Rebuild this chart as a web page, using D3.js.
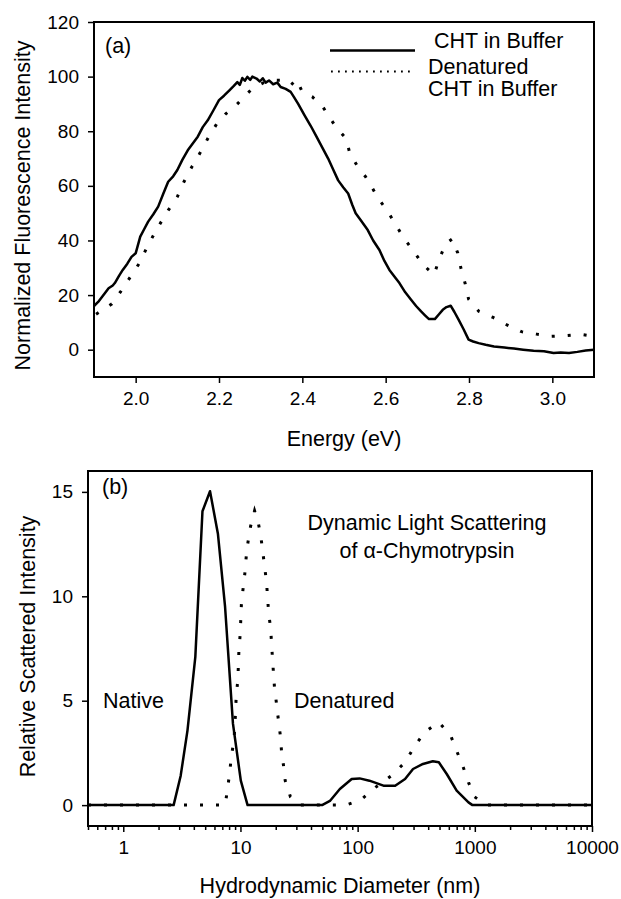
<!DOCTYPE html>
<html>
<head>
<meta charset="utf-8">
<script src="https://cdn.jsdelivr.net/npm/d3@7"></script>
<style>
  body { margin: 0; background: #fff; }
  svg { display: block; font-family: "Liberation Sans", Arial, sans-serif; }
  .frame { fill: none; stroke: #000; stroke-width: 2; }
  .tick line { stroke: #000; stroke-width: 1.5; }
  .tick text { font-size: 19px; fill: #000; }
  .solid { fill: none; stroke: #000; stroke-width: 2.5; stroke-linejoin: round; }
  .dotted { fill: none; stroke: #000; stroke-width: 3; stroke-dasharray: 3 13; }
  .lbl { font-size: 21.5px; fill: #000; }
</style>
</head>
<body>
<div id="chart"></div>
<script>
// panel (a): fluorescence, [energy eV, normalized intensity]
const chtBuffer = [
  [1.900,16.0],[1.910,17.5],[1.920,19.5],[1.926,20.7],[1.935,22.5],[1.945,23.5],[1.950,24.4],[1.960,27.0],
  [1.969,29.2],[1.980,31.5],[1.990,34.0],[2.000,35.3],[2.011,41.4],[2.020,44.0],[2.030,46.9],[2.042,49.5],
  [2.054,52.4],[2.066,57.0],[2.078,61.5],[2.090,63.5],[2.100,65.8],[2.112,69.5],[2.125,73.0],[2.137,75.5],
  [2.149,78.0],[2.161,81.5],[2.173,84.0],[2.186,87.5],[2.200,91.4],[2.212,93.0],[2.225,95.0],[2.235,96.5],
  [2.244,98.0],[2.250,97.0],[2.256,99.5],[2.262,98.5],[2.268,99.9],[2.275,98.8],[2.280,100],[2.290,99.3],
  [2.298,98.2],[2.305,99.4],[2.312,97.8],[2.320,98.6],[2.330,97.2],[2.340,97.8],[2.348,96.2],[2.360,95.5],
  [2.372,94.4],[2.380,92.5],[2.390,90.0],[2.405,85.9],[2.420,82.0],[2.434,78.0],[2.448,74.0],[2.462,70.0],
  [2.474,66.0],[2.486,62.0],[2.498,59.5],[2.510,57.2],[2.520,53.0],[2.528,50.0],[2.542,47.0],[2.557,43.8],
  [2.570,40.0],[2.585,36.5],[2.597,32.5],[2.609,29.2],[2.620,27.0],[2.633,24.4],[2.647,21.0],[2.661,18.3],
  [2.673,16.0],[2.685,14.0],[2.695,12.5],[2.704,11.2],[2.718,11.2],[2.728,13.0],[2.737,14.6],[2.746,15.6],
  [2.756,16.1],[2.765,13.8],[2.775,11.0],[2.787,7.5],[2.799,3.7],[2.810,3.0],[2.823,2.4],[2.840,1.8],
  [2.860,1.2],[2.885,0.8],[2.908,0.4],[2.930,0.0],[2.955,-0.4],[2.980,-0.6],[3.003,-1.2],[3.020,-1.0],
  [3.040,-1.2],[3.060,-0.8],[3.080,-0.3],[3.100,0.0]
];
const chtDenatured = [
  [1.905,13.0],[1.920,14.5],[1.943,16.8],[1.964,21.3],[1.988,26.8],[2.009,31.7],[2.030,38.4],[2.054,45.0],
  [2.078,51.0],[2.100,56.0],[2.116,61.5],[2.135,67.0],[2.154,71.9],[2.173,77.3],[2.195,82.8],[2.217,86.5],
  [2.241,89.5],[2.260,92.6],[2.280,95.6],[2.306,97.7],[2.330,98.7],[2.348,98.7],[2.372,96.8],[2.386,99.0],
  [2.400,94.4],[2.424,92.6],[2.448,89.2],[2.479,81.9],[2.505,77.3],[2.514,71.9],[2.533,67.0],[2.552,63.3],
  [2.585,54.8],[2.604,50.9],[2.623,46.0],[2.644,40.8],[2.668,35.9],[2.690,31.1],[2.716,27.4],[2.728,32.9],
  [2.744,38.8],[2.760,40.6],[2.773,35.4],[2.781,29.6],[2.791,24.1],[2.799,18.5],[2.824,14.0],[2.858,11.8],
  [2.891,9.1],[2.926,6.6],[2.962,5.7],[2.997,4.9],[3.033,5.1],[3.068,5.6],[3.100,4.9]
];
const energyTicks = [2.0, 2.2, 2.4, 2.6, 2.8, 3.0];
const fluorTicks = [0, 20, 40, 60, 80, 100, 120];

// panel (b): DLS, [diameter nm, relative intensity]
const dlsNative = [
  [0.5,0],[2.69,0],[3.09,1.41],[3.53,3.57],[4.12,7.1],[4.74,14.07],[5.5,15.03],[6.42,13.0],[7.39,9.5],
  [8.63,3.9],[10.07,1.17],[11.5,0],[49.7,0],[58,0.2],[70.5,0.77],[89,1.25],[104,1.28],[126,1.17],
  [166,0.93],[209,0.93],[254,1.25],[297,1.73],[361,1.97],[438,2.1],[493,2.05],[576,1.49],[700,0.69],
  [883,0.13],[955,0],[10000,0]
];
const dlsDenatured = [
  [0.5,0],[7.4,0],[7.8,0.85],[8.1,1.6],[8.4,2.4],[8.8,3.1],[9.0,4.0],[9.2,5.2],[9.5,6.0],[9.7,7.4],
  [9.95,8.2],[10.2,9.7],[10.6,10.5],[10.9,11.1],[11.2,11.9],[11.6,12.6],[12.2,13.35],[13.2,14.1],
  [14.1,13.6],[14.9,12.9],[16.1,11.4],[16.7,10.66],[17.4,9.2],[18.1,8.46],[18.8,6.94],[19.5,5.66],
  [20.3,4.86],[21.1,4.05],[21.9,3.33],[22.4,2.6],[23.3,1.9],[24.1,1.17],[26.7,0.4],[32.4,0],[79,0],
  [106,0.24],[142,0.85],[194,1.41],[254,2.05],[309,2.85],[375,3.5],[493,3.97],[622,3.33],[700,2.6],
  [798,1.8],[883,1.09],[993,0.4],[1253,0],[10000,0]
];
const diameterTicks = [1, 10, 100, 1000, 10000];
const dlsTicks = [0, 5, 10, 15];

const W = 621, H = 899;

const svg = d3.select('#chart').append('svg')
  .attr('width', W)
  .attr('height', H);

svg.append('rect').attr('width', W).attr('height', H).attr('fill', '#fff');

// ---------- panel (a)
const xA = d3.scaleLinear().domain([1.9, 3.1]).range([94, 594]);
const yA = d3.scaleLinear().domain([-10, 120]).range([377, 22]);

const gA = svg.append('g');

gA.append('g')
  .attr('transform', `translate(0,${yA.range()[0]})`)
  .call(d3.axisBottom(xA).tickValues(energyTicks).tickFormat(d3.format('.1f')).tickSize(6).tickSizeOuter(0).tickPadding(9))
  .call((g) => g.select('.domain').remove());

gA.append('g')
  .attr('transform', `translate(${xA.range()[0]},0)`)
  .call(d3.axisLeft(yA).tickValues(fluorTicks).tickSize(6).tickSizeOuter(0).tickPadding(9))
  .call((g) => g.select('.domain').remove());

const lineA = d3.line().x((d) => xA(d[0])).y((d) => yA(d[1]));

gA.append('path').attr('class', 'solid').attr('d', lineA(chtBuffer));
gA.append('path').attr('class', 'dotted').attr('d', lineA(chtDenatured));

gA.append('rect').attr('class', 'frame')
  .attr('x', xA.range()[0]).attr('y', yA.range()[1])
  .attr('width', xA.range()[1] - xA.range()[0])
  .attr('height', yA.range()[0] - yA.range()[1]);

// legend
gA.append('line').attr('x1', 330).attr('x2', 415).attr('y1', 50.5).attr('y2', 50.5)
  .attr('stroke', '#000').attr('stroke-width', 2.5);
gA.append('line').attr('x1', 331).attr('x2', 415).attr('y1', 71.5).attr('y2', 71.5)
  .attr('stroke', '#000').attr('stroke-width', 1.8).attr('stroke-dasharray', '1.8 5.2');
gA.append('text').attr('class', 'lbl').attr('x', 434).attr('y', 48).text('CHT in Buffer');
gA.append('text').attr('class', 'lbl').attr('x', 428).attr('y', 74).text('Denatured');
gA.append('text').attr('class', 'lbl').attr('x', 428).attr('y', 96).text('CHT in Buffer');

gA.append('text').attr('class', 'lbl').attr('x', 105).attr('y', 53).text('(a)');

gA.append('text').attr('class', 'lbl')
  .attr('text-anchor', 'middle')
  .attr('x', d3.mean(xA.range())).attr('y', 446)
  .text('Energy (eV)');

gA.append('text').attr('class', 'lbl')
  .attr('text-anchor', 'middle')
  .attr('transform', `translate(30,${d3.mean(yA.range()) + 6}) rotate(-90)`)
  .text('Normalized Fluorescence Intensity');

// ---------- panel (b)
const xB = d3.scaleLog().domain([0.5, 10000]).range([88, 592]);
const yB = d3.scaleLinear().domain([-1, 16]).range([826, 471]);

const gB = svg.append('g');

const minorTicks = xB.ticks().filter((d) => !diameterTicks.includes(d));

gB.append('g')
  .attr('transform', `translate(0,${yB.range()[0]})`)
  .call(d3.axisBottom(xB).tickValues(minorTicks).tickFormat('').tickSize(4).tickSizeOuter(0))
  .call((g) => g.select('.domain').remove());

gB.append('g')
  .attr('transform', `translate(0,${yB.range()[0]})`)
  .call(d3.axisBottom(xB).tickValues(diameterTicks).tickFormat(d3.format('d')).tickSize(6).tickSizeOuter(0).tickPadding(9))
  .call((g) => g.select('.domain').remove());

gB.append('g')
  .attr('transform', `translate(${xB.range()[0]},0)`)
  .call(d3.axisLeft(yB).tickValues(dlsTicks).tickSize(6).tickSizeOuter(0).tickPadding(9))
  .call((g) => g.select('.domain').remove());

const lineB = d3.line().x((d) => xB(d[0])).y((d) => yB(d[1]));

gB.append('path').attr('class', 'solid').attr('d', lineB(dlsNative));
gB.append('path').attr('class', 'dotted').attr('d', lineB(dlsDenatured));

gB.append('rect').attr('class', 'frame')
  .attr('x', xB.range()[0]).attr('y', yB.range()[1])
  .attr('width', xB.range()[1] - xB.range()[0])
  .attr('height', yB.range()[0] - yB.range()[1]);

gB.append('text').attr('class', 'lbl').attr('x', 102).attr('y', 494).text('(b)');
gB.append('text').attr('class', 'lbl').attr('x', 103).attr('y', 708).text('Native');
gB.append('text').attr('class', 'lbl').attr('x', 294).attr('y', 708).text('Denatured');
gB.append('text').attr('class', 'lbl').attr('text-anchor', 'middle').attr('x', 427).attr('y', 530).text('Dynamic Light Scattering');
gB.append('text').attr('class', 'lbl').attr('text-anchor', 'middle').attr('x', 427).attr('y', 558).text('of α-Chymotrypsin');

gB.append('text').attr('class', 'lbl')
  .attr('text-anchor', 'middle')
  .attr('x', d3.mean(xB.range())).attr('y', 893)
  .text('Hydrodynamic Diameter (nm)');

gB.append('text').attr('class', 'lbl')
  .attr('text-anchor', 'middle')
  .attr('transform', `translate(35,${d3.mean(yB.range()) - 2}) rotate(-90)`)
  .text('Relative  Scattered Intensity');
</script>
</body>
</html>
